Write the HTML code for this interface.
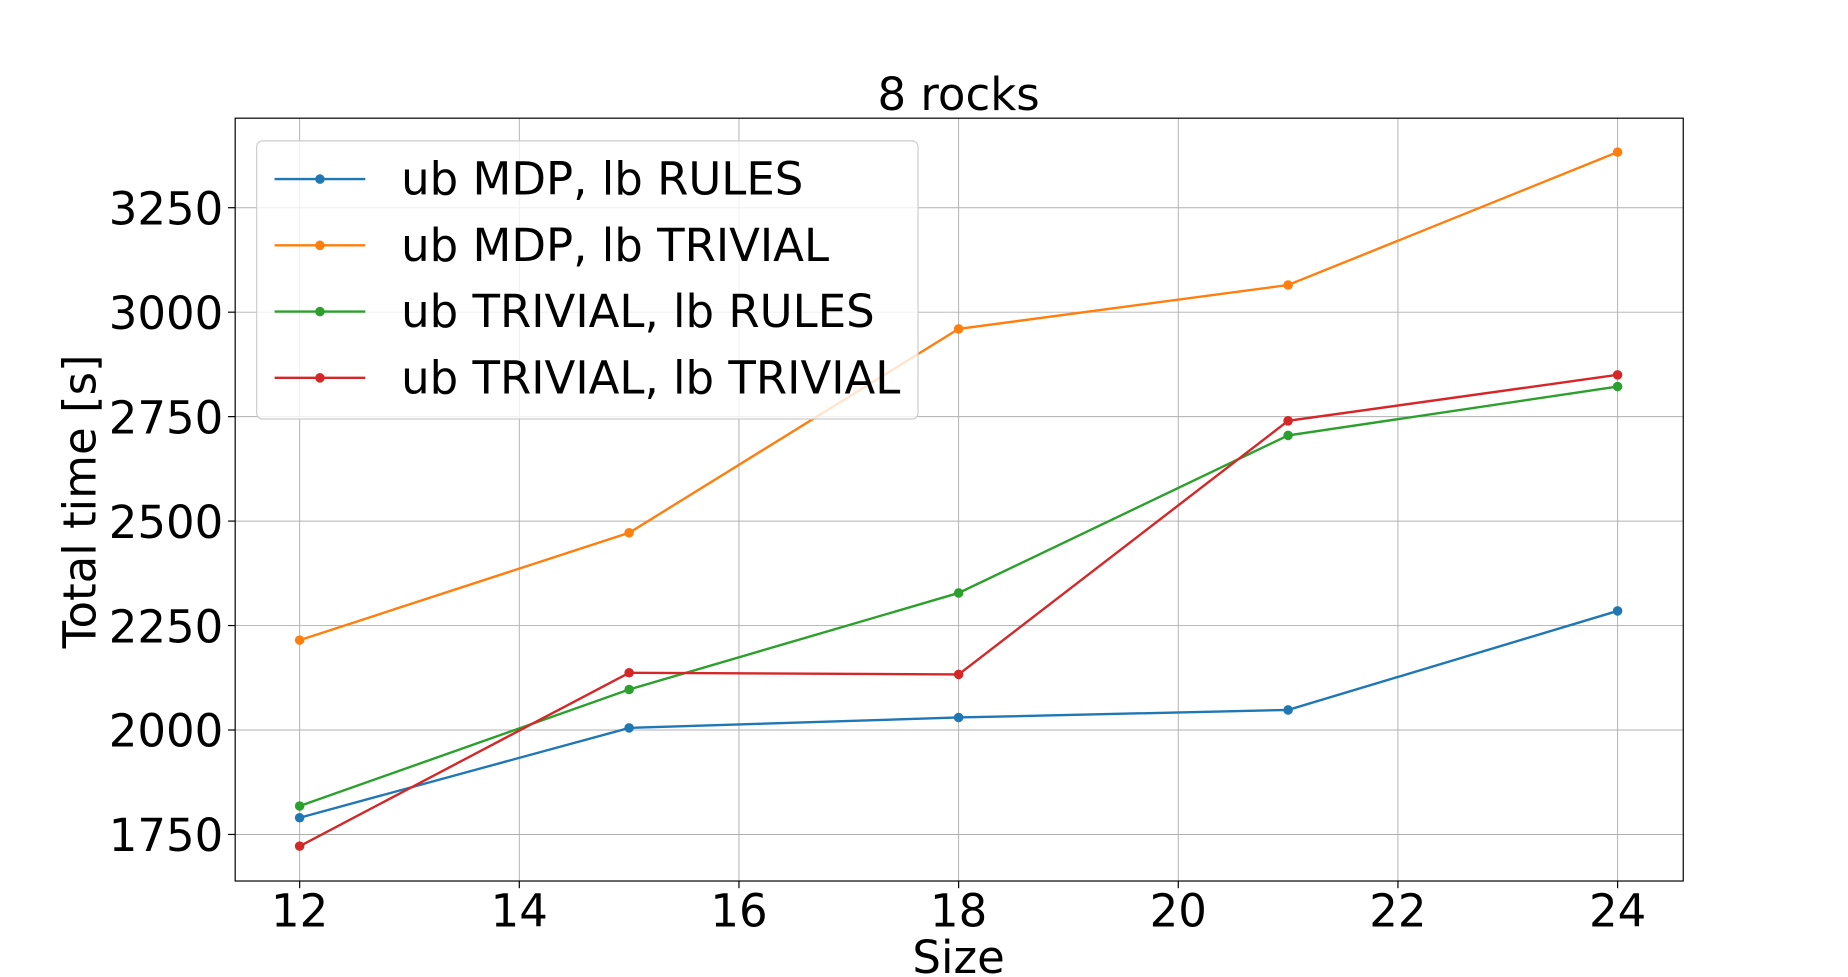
<!DOCTYPE html>
<html><head><meta charset="utf-8"><style>html,body{margin:0;padding:0;background:#fff}svg{display:block}text{font-family:"DejaVu Sans","Liberation Sans",sans-serif;fill:#000}</style></head>
<body>
<svg id="chart" width="1848" height="977" viewBox="0 0 1548 818.4" xmlns="http://www.w3.org/2000/svg">
<rect width="1548" height="818.4" fill="#fff"/>
<text x="803" y="92" font-size="37.7" text-anchor="middle">8 rocks</text>
<g id="grid"></g>
<g id="axes"></g>
<g id="series"></g>
<g id="legend"></g>
<text x="803" y="815" font-size="37.7" text-anchor="middle">Size</text>
<text transform="translate(80,420) rotate(-90)" font-size="37.7" text-anchor="middle">Total time [s]</text>
</svg>
<script>
const sizes=[12,15,18,21,24];
const seriesNames=["ub MDP, lb RULES","ub MDP, lb TRIVIAL","ub TRIVIAL, lb RULES","ub TRIVIAL, lb TRIVIAL"];
const colors=["#1f77b4","#ff7f0e","#2ca02c","#d62728"];
const ubMdpLbRules=[1790,2005,2030,2048,2285];
const ubMdpLbTrivial=[2215,2472,2960,3065,3383];
const ubTrivialLbRules=[1818,2097,2328,2705,2822];
const ubTrivialLbTrivial=[1722,2137,2133,2740,2850];
const xTicks=[12,14,16,18,20,22,24];
const yTicks=[1750,2000,2250,2500,2750,3000,3250];
const allSeries=[ubMdpLbRules,ubMdpLbTrivial,ubTrivialLbRules,ubTrivialLbTrivial];
const L=197,R=1410,T=99,B=738;
const sx=v=>251+(v-12)*(1355-251)/12;
const sy=v=>699-(v-1750)*(699-174)/1500;
const NS="http://www.w3.org/2000/svg";
function mk(tag,attrs,parent){const e=document.createElementNS(NS,tag);for(const k in attrs)e.setAttribute(k,attrs[k]);parent.appendChild(e);return e;}
const grid=document.getElementById('grid'),axes=document.getElementById('axes'),ser=document.getElementById('series'),leg=document.getElementById('legend');
xTicks.forEach(t=>{const x=sx(t);
 const g=mk('line',{x1:x,x2:x,y1:T,y2:B,stroke:'#b0b0b0','stroke-width':0.8},grid);
 
 
 mk('line',{x1:x,x2:x,y1:B,y2:B+6,stroke:'#000','stroke-width':1},axes);
 const tx=mk('text',{x:x,y:776,'font-size':37.7,'text-anchor':'middle'},axes);tx.textContent=t;
 
 
});
yTicks.forEach(t=>{const y=sy(t);
 const g=mk('line',{x1:L,x2:R,y1:y,y2:y,stroke:'#b0b0b0','stroke-width':0.8},grid);
 
 
 mk('line',{x1:L-6,x2:L,y1:y,y2:y,stroke:'#000','stroke-width':1},axes);
 const tx=mk('text',{x:L-10,y:y+14,'font-size':37.7,'text-anchor':'end'},axes);tx.textContent=t;
 
 
});
const fr=mk('rect',{x:L,y:T,width:R-L,height:B-T,fill:'none',stroke:'#000','stroke-width':1},axes);


allSeries.forEach((d,i)=>{
 const pl=mk('polyline',{points:d.map((v,j)=>sx(sizes[j])+','+sy(v)).join(' '),fill:'none',stroke:colors[i],'stroke-width':2},ser);
 
 
 d.forEach((v,j)=>{const c=mk('circle',{cx:sx(sizes[j]),cy:sy(v),r:4,fill:colors[i]},ser);
  
  });
});
const lb=mk('rect',{x:215,y:118,width:554,height:233,rx:5,fill:'#fff','fill-opacity':0.8,stroke:'#ccc','stroke-width':1},leg);


seriesNames.forEach((n,i)=>{const y=150+i*55.5;
 const g=mk('g',{},leg);
 
 
 mk('line',{x1:230,x2:306,y1:y,y2:y,stroke:colors[i],'stroke-width':2},g);
 mk('circle',{cx:268,cy:y,r:4,fill:colors[i]},g);
 const t=mk('text',{x:336,y:y+13,'font-size':37.7},g);t.textContent=n;
});
</script>
</body></html>
